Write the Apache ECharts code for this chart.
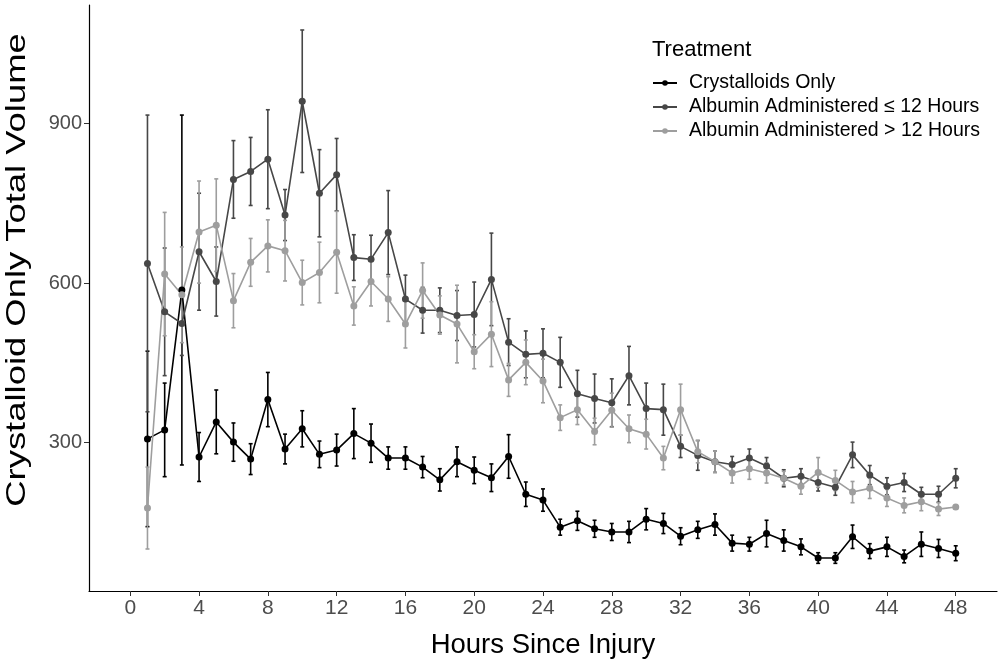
<!DOCTYPE html>
<html>
<head>
<meta charset="utf-8">
<script src="https://cdn.jsdelivr.net/npm/echarts@6/dist/echarts.min.js"></script>
<style>
  html, body { margin: 0; padding: 0; background: #fff; }
  #chart { width: 1000px; height: 664px; }
</style>
</head>
<body>
<div id="chart"></div>
<script>
  // hours since injury
  var hours = [1, 2, 3, 4, 5, 6, 7, 8, 9, 10, 11, 12, 13, 14, 15, 16, 17, 18, 19, 20, 21, 22, 23, 24,
    25, 26, 27, 28, 29, 30, 31, 32, 33, 34, 35, 36, 37, 38, 39, 40, 41, 42, 43, 44, 45, 46, 47, 48]

  // Crystalloids Only
  var crystMean = [307, 324, 587, 273, 339, 301, 269, 381, 288, 326, 278, 286, 317, 299, 271, 271, 254, 230, 264, 248, 234, 274, 203, 192,
    141, 153, 138, 132, 132, 156, 148, 124, 136, 146, 111, 109, 129, 116, 104, 83, 83, 123, 96, 104, 86, 109, 101, 92]
  var crystErr = [165, 88, 329, 46, 60, 36, 29, 51, 28, 34, 25, 30, 47, 36, 21, 21, 20, 21, 28, 25, 26, 41, 23, 21,
    15, 18, 16, 16, 20, 20, 19, 16, 16, 20, 15, 13, 25, 20, 15, 10, 10, 22, 14, 18, 12, 23, 17, 14]

  // Albumin Administered <= 12 Hours
  var earlyMean = [637, 546, 524, 659, 603, 795, 810, 833, 728, 942, 769, 804, 648, 645, 695, 570, 549, 549, 539, 541, 607, 489, 466, 468,
    451, 392, 383, 375, 426, 364, 362, 293, 276, 264, 259, 271, 256, 233, 237, 225, 216, 277, 239, 218, 225, 203, 203, 233]
  var earlyErr = [279, 120, 60, 110, 65, 73, 64, 93, 48, 134, 82, 68, 43, 45, 79, 45, 43, 42, 47, 61, 87, 44, 44, 46,
    47, 44, 46, 45, 55, 48, 48, 21, 28, 20, 15, 17, 16, 16, 14, 16, 15, 24, 18, 16, 17, 13, 15, 18]

  // Albumin Administered > 12 Hours
  var lateMean = [177, 617, 578, 696, 709, 567, 639, 670, 661, 601, 620, 658, 557, 603, 570, 523, 586, 540, 523, 471, 504, 418, 451, 416,
    347, 362, 321, 361, 326, 316, 271, 362, 283, 264, 243, 251, 243, 233, 218, 244, 229, 207, 214, 196, 182, 189, 175, 179]
  var lateErr = [77, 116, 90, 96, 87, 51, 45, 49, 57, 42, 57, 77, 36, 46, 42, 45, 52, 36, 73, 32, 61, 31, 42, 41,
    24, 28, 25, 32, 26, 28, 22, 48, 21, 20, 19, 20, 19, 13, 15, 28, 19, 20, 19, 16, 14, 17, 12, 4]

  var xTicks = [0, 4, 8, 12, 16, 20, 24, 28, 32, 36, 40, 44, 48]
  var yTicks = [300, 600, 900]

  var names = ['Crystalloids Only', 'Albumin Administered \u2264 12 Hours', 'Albumin Administered > 12 Hours']
  var colors = ['#000000', '#474747', '#9e9e9e']

  function pairs (means) {
    return hours.map(function (h, i) { return [h, means[i]] })
  }

  function bars (means, errs) {
    return hours.map(function (h, i) { return [h, means[i] - errs[i], means[i] + errs[i]] })
  }

  // vertical error bar with small caps, drawn through the axes
  function errorSeries (name, color, means, errs) {
    return {
      name: name + ' (SE)',
      type: 'custom',
      silent: true,
      data: bars(means, errs),
      encode: { x: 0, y: [1, 2] },
      itemStyle: { color: color },
      renderItem: function (params, api) {
        var lo = api.coord([api.value(0), api.value(1)])
        var hi = api.coord([api.value(0), api.value(2)])
        var style = { stroke: color, lineWidth: 1.6 }
        return {
          type: 'group',
          children: [
            { type: 'line', shape: { x1: lo[0], y1: lo[1], x2: hi[0], y2: hi[1] }, style: style },
            { type: 'line', shape: { x1: lo[0] - 2, y1: lo[1], x2: lo[0] + 2, y2: lo[1] }, style: style },
            { type: 'line', shape: { x1: hi[0] - 2, y1: hi[1], x2: hi[0] + 2, y2: hi[1] }, style: style }
          ]
        }
      },
      z: 2
    }
  }

  function lineSeries (name, color, means) {
    return {
      name: name,
      type: 'line',
      data: pairs(means),
      symbol: 'circle',
      symbolSize: 7,
      lineStyle: { color: color, width: 1.6 },
      itemStyle: { color: color },
      z: 3
    }
  }

  var chart = echarts.init(document.getElementById('chart'))
  chart.setOption({
    animation: false,
    textStyle: { fontFamily: 'Liberation Sans, Arial, sans-serif' },
    title: {
      text: 'Treatment',
      left: 652,
      top: 39,
      padding: 0,
      textStyle: { fontSize: 22, fontWeight: 'normal', color: '#000' }
    },
    legend: {
      data: names,
      orient: 'vertical',
      left: 652,
      top: 73,
      padding: 0,
      itemWidth: 24,
      itemHeight: 7,
      itemGap: 4,
      textStyle: { fontSize: 19.5, lineHeight: 20, color: '#000', padding: [0, 0, 0, 7] }
    },
    graphic: [{
      type: 'text',
      x: 17,
      y: 270,
      rotation: Math.PI / 2,
      scaleX: 1.3,
      style: {
        text: 'Crystalloid Only Total Volume',
        font: '28px "Liberation Sans", Arial, sans-serif',
        fill: '#000',
        align: 'center',
        verticalAlign: 'middle'
      }
    }],
    grid: { left: 89, right: 3, top: 5, bottom: 72 },
    xAxis: {
      type: 'value',
      min: -2.4,
      max: 50.4,
      name: 'Hours Since Injury',
      nameLocation: 'middle',
      nameGap: 40,
      nameTextStyle: { fontSize: 27.5, color: '#000' },
      splitLine: { show: false },
      axisLine: { onZero: false, lineStyle: { color: '#000', width: 1.2 } },
      axisTick: { customValues: xTicks, length: 5, lineStyle: { color: '#333' } },
      axisLabel: { customValues: xTicks, fontSize: 21, color: '#4d4d4d', margin: 7 }
    },
    yAxis: {
      type: 'value',
      min: 21,
      max: 1123,
      splitLine: { show: false },
      axisLine: { show: true, onZero: false, lineStyle: { color: '#000', width: 1.2 } },
      axisTick: { show: true, customValues: yTicks, length: 5, lineStyle: { color: '#333' } },
      axisLabel: { customValues: yTicks, fontSize: 20, color: '#4d4d4d', margin: 7 }
    },
    series: [
      errorSeries(names[0], colors[0], crystMean, crystErr),
      errorSeries(names[1], colors[1], earlyMean, earlyErr),
      errorSeries(names[2], colors[2], lateMean, lateErr),
      lineSeries(names[0], colors[0], crystMean),
      lineSeries(names[1], colors[1], earlyMean),
      lineSeries(names[2], colors[2], lateMean)
    ]
  })
</script>
</body>
</html>
